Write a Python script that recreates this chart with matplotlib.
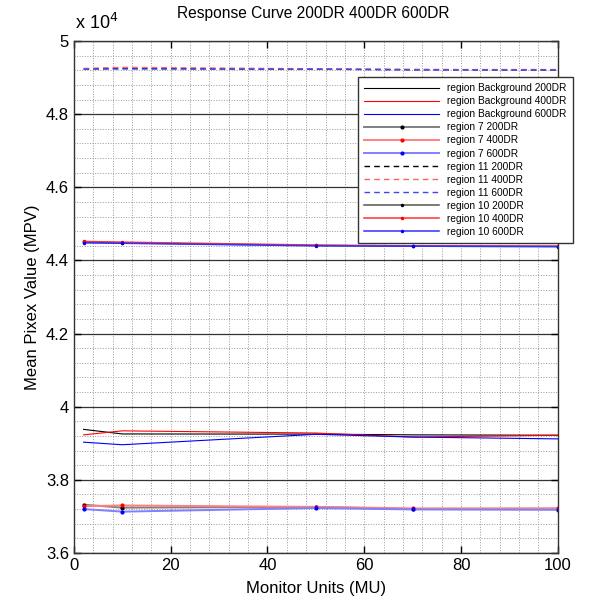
import matplotlib
matplotlib.use("Agg")
import matplotlib.pyplot as plt
from matplotlib.ticker import MultipleLocator, FuncFormatter

plt.rcParams['font.family'] = ['Liberation Sans', 'DejaVu Sans']

# monitor units
mu = [2, 10, 50, 70, 100]

# mean pixel values
bg_200 = [39380, 39255, 39250, 39230, 39220]
bg_400 = [39230, 39340, 39280, 39170, 39220]
bg_600 = [39030, 38960, 39245, 39170, 39120]

r7_200 = [37320, 37240, 37260, 37200, 37210]
r7_400 = [37280, 37300, 37260, 37220, 37220]
r7_600 = [37200, 37130, 37230, 37190, 37180]

r11_200 = [49240, 49250, 49230, 49220, 49210]
r11_400 = [49250, 49280, 49240, 49220, 49220]
r11_600 = [49230, 49240, 49230, 49210, 49210]

r10_200 = [44500, 44480, 44410, 44390, 44380]
r10_400 = [44520, 44500, 44420, 44400, 44390]
r10_600 = [44480, 44470, 44400, 44390, 44380]

fig = plt.figure(figsize=(5.96, 6.08), dpi=100)
ax = fig.add_axes([0.124, 0.0905, 0.812, 0.842])

ax.plot(mu, bg_200, color='k', lw=0.8, label='region Background 200DR')
ax.plot(mu, bg_400, color='r', lw=0.8, label='region Background 400DR')
ax.plot(mu, bg_600, color='b', lw=0.8, label='region Background 600DR')

ax.plot(mu, r7_200, color='#808080', lw=1.4, marker='.', ms=4, mec='k', mfc='k', label='region 7 200DR')
ax.plot(mu, r7_400, color='#ff8080', lw=1.4, marker='.', ms=4, mec='r', mfc='r', label='region 7 400DR')
ax.plot(mu, r7_600, color='#8080ff', lw=1.4, marker='.', ms=4, mec='b', mfc='b', label='region 7 600DR')

ax.plot(mu, r11_200, color='k', lw=1.0, ls='--', dashes=(4, 3), label='region 11 200DR')
ax.plot(mu, r11_400, color='#ff6060', lw=1.0, ls='--', dashes=(4, 3), label='region 11 400DR')
ax.plot(mu, r11_600, color='#4040ff', lw=1.0, ls='--', dashes=(4, 3), label='region 11 600DR')

ax.plot(mu, r10_200, color='#555555', lw=1.1, marker='.', ms=3, mec='k', mfc='k', label='region 10 200DR')
ax.plot(mu, r10_400, color='#ff3030', lw=1.1, marker='.', ms=3, mec='r', mfc='r', label='region 10 400DR')
ax.plot(mu, r10_600, color='#3030ff', lw=1.1, marker='.', ms=3, mec='b', mfc='b', label='region 10 600DR')

ax.set_xlim(0, 100)
ax.set_ylim(36000, 50000)
ax.xaxis.set_major_locator(MultipleLocator(20))
ax.xaxis.set_minor_locator(MultipleLocator(4))
ax.yaxis.set_major_locator(MultipleLocator(2000))
ax.yaxis.set_minor_locator(MultipleLocator(400))
ax.yaxis.set_major_formatter(FuncFormatter(lambda v, p: '%g' % (v / 1e4)))

ax.grid(which='minor', ls=':', color='#999999', lw=0.7)
ax.grid(which='major', axis='x', ls=':', color='#999999', lw=0.7)
ax.grid(which='major', axis='y', ls='-', color='#333333', lw=0.9)

ax.tick_params(which='major', direction='in', length=5, top=True, right=True, labelsize=12, width=1.0)
ax.tick_params(which='minor', length=0)
for s in ax.spines.values():
    s.set_color('#333333')
    s.set_linewidth(1.0)

ax.set_xlabel('Monitor Units (MU)', fontsize=12, labelpad=6)
ax.set_ylabel('Mean Pixex Value (MPV)', fontsize=12)
fig.text(0.525, 0.978, 'Response Curve 200DR 400DR 600DR', fontsize=11.2, ha='center', va='center')
fig.text(0.126, 0.945, r'x 10$^4$', fontsize=13, ha='left', va='bottom')

leg = ax.legend(loc='upper right', bbox_to_anchor=(0.961, 0.873), bbox_transform=fig.transFigure,
                borderaxespad=0, fontsize=7.3, handlelength=7.4, numpoints=1, labelspacing=0.3,
                fancybox=False, framealpha=1, edgecolor='#333333', borderpad=0.6)
leg.get_frame().set_linewidth(1.0)

fig.savefig('out.png', dpi=100)
